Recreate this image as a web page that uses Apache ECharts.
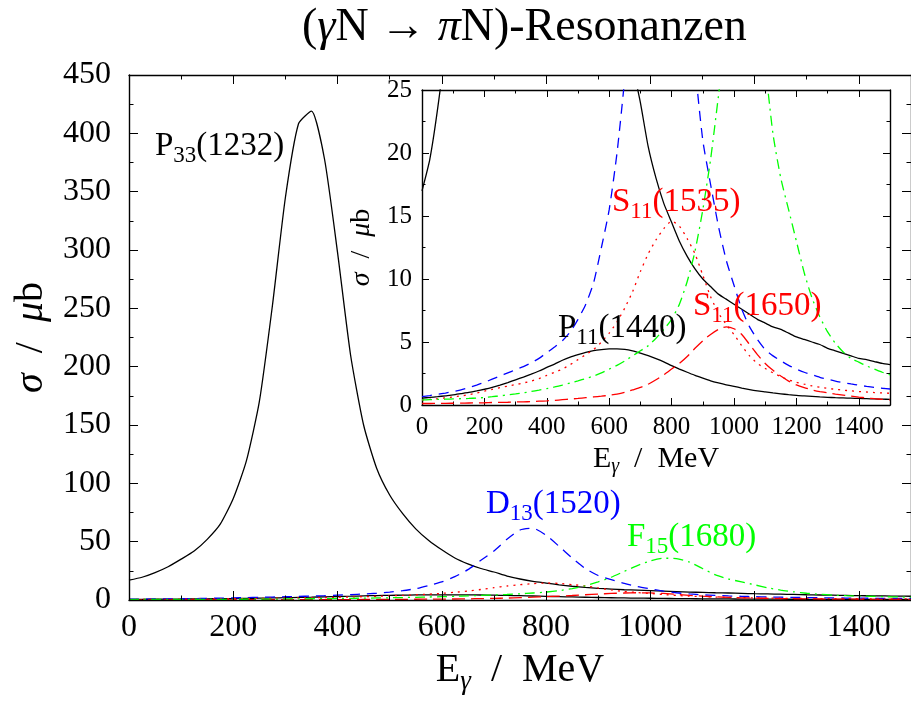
<!DOCTYPE html>
<html>
<head>
<meta charset="utf-8">
<script src="https://cdn.jsdelivr.net/npm/echarts@6/dist/echarts.min.js"></script>
<style>
  html, body { margin: 0; padding: 0; background: #fff; }
  #chart { width: 911px; height: 704px; }
</style>
</head>
<body>
<div id="chart"></div>
<script>
// photon energy grid (MeV)
var energy = [0, 25, 50, 75, 100, 125, 150, 175, 200, 225, 250, 275, 300, 325, 350, 375, 400, 425, 450, 475,
  500, 525, 550, 575, 600, 625, 650, 675, 700, 725, 750, 775, 800, 825, 850, 875, 900, 925, 950, 975,
  1000, 1025, 1050, 1075, 1100, 1125, 1150, 1175, 1200, 1225, 1250, 1275, 1300, 1325, 1350, 1375, 1400, 1425, 1450, 1475, 1500];

// cross sections in microbarn
var p33 = [17, 19.5, 23.5, 28.5, 35, 42, 52, 65, 87, 119, 170, 252, 345, 408, 419, 378, 298, 210, 150, 113,
  90, 74, 61, 51, 43, 36, 31, 27, 24, 20.5, 18, 16, 14.5, 13, 11.8, 10.8, 10, 9.4, 8.8, 8.4,
  8, 7.6, 7.2, 6.8, 6.5, 6.2, 6, 5.7, 5.4, 5.2, 5.0, 4.8, 4.5, 4.3, 4.1, 3.9, 3.7, 3.6, 3.45, 3.3, 3.2];
var p11 = [0.55, 0.6, 0.66, 0.73, 0.8, 0.9, 1.0, 1.12, 1.25, 1.4, 1.58, 1.78, 2.0, 2.22, 2.45, 2.7, 2.98, 3.25, 3.55, 3.8,
  4.0, 4.18, 4.32, 4.4, 4.45, 4.45, 4.42, 4.3, 4.12, 3.92, 3.68, 3.42, 3.12, 2.85, 2.6, 2.35, 2.13, 1.92, 1.75, 1.6,
  1.48, 1.34, 1.22, 1.12, 1.04, 0.96, 0.89, 0.82, 0.76, 0.72, 0.68, 0.64, 0.61, 0.58, 0.56, 0.54, 0.52, 0.5, 0.48, 0.46, 0.45];
var d13 = [0.66, 0.75, 0.85, 0.95, 1.07, 1.2, 1.38, 1.58, 1.8, 2.05, 2.3, 2.55, 2.8, 3.05, 3.35, 3.7, 4.15, 4.6, 5.1, 5.8,
  6.8, 8.0, 9.7, 12.5, 15.5, 20, 26, 34, 42, 52, 60, 61.5, 55.5, 46, 36, 27, 21, 17.5, 14.2, 11.5,
  9.5, 7.6, 6.2, 5.2, 4.4, 3.9, 3.5, 3.15, 2.85, 2.6, 2.4, 2.2, 2.05, 1.9, 1.78, 1.67, 1.57, 1.48, 1.4, 1.33, 1.27];
var s11a = [0.4, 0.45, 0.5, 0.57, 0.64, 0.72, 0.82, 0.95, 1.1, 1.24, 1.38, 1.5, 1.62, 1.75, 1.9, 2.1, 2.35, 2.6, 2.85, 3.2,
  3.6, 4.0, 4.4, 5.0, 5.7, 6.6, 7.7, 9.0, 10.6, 12.0, 13.1, 14.0, 14.6, 14.2, 13.2, 12.0, 10.3, 8.6, 7.3, 6.4,
  5.6, 4.7, 3.9, 3.3, 2.9, 2.55, 2.25, 2.0, 1.8, 1.65, 1.52, 1.41, 1.32, 1.25, 1.18, 1.12, 1.07, 1.03, 0.99, 0.96, 0.93];
var s11b = [0.12, 0.12, 0.13, 0.13, 0.14, 0.15, 0.16, 0.17, 0.18, 0.2, 0.21, 0.22, 0.24, 0.25, 0.27, 0.3, 0.33, 0.37, 0.42, 0.47,
  0.52, 0.58, 0.64, 0.7, 0.77, 0.86, 1.0, 1.2, 1.4, 1.65, 2.0, 2.4, 2.85, 3.3, 3.85, 4.5, 5.1, 5.6, 6.0, 6.2,
  6.05, 5.6, 4.8, 4.0, 3.3, 2.75, 2.3, 1.9, 1.6, 1.38, 1.2, 1.07, 0.96, 0.87, 0.79, 0.71, 0.63, 0.56, 0.5, 0.45, 0.4];
var f15 = [0.4, 0.42, 0.44, 0.46, 0.48, 0.5, 0.52, 0.55, 0.6, 0.66, 0.73, 0.8, 0.88, 0.97, 1.07, 1.18, 1.3, 1.43, 1.58, 1.75,
  1.92, 2.1, 2.3, 2.55, 2.85, 3.15, 3.5, 3.9, 4.3, 4.7, 5.3, 6.0, 6.8, 8.0, 9.8, 12.2, 15.5, 19.5, 24.5, 29.5,
  33.5, 35.8, 35.5, 32.5, 27, 21.5, 18, 15.5, 13, 10.5, 8.5, 7.0, 5.8, 4.9, 4.2, 3.7, 3.4, 3.1, 2.85, 2.6, 2.4];

var font = 'Liberation Serif';
var chart = echarts.init(document.getElementById('chart'));

var curves = [
  { name: 'P33(1232)', data: p33, color: '#000000', dash: 'solid' },
  { name: 'P11(1440)', data: p11, color: '#000000', dash: 'solid' },
  { name: 'D13(1520)', data: d13, color: '#0000ff', dash: [10, 7] },
  { name: 'S11(1535)', data: s11a, color: '#ff0000', dash: [2, 5] },
  { name: 'S11(1650)', data: s11b, color: '#ff0000', dash: [13, 6] },
  { name: 'F15(1680)', data: f15, color: '#00ff00', dash: [10, 5, 2, 5] }
];

function pairs(vals) {
  return energy.map(function (e, i) { return [e, vals[i]]; });
}

var series = [];
curves.forEach(function (c) {
  // main panel
  series.push({
    name: c.name, type: 'line', xAxisIndex: 0, yAxisIndex: 0, z: 2,
    data: pairs(c.data), showSymbol: false, smooth: 0.2,
    lineStyle: { color: c.color, width: 1.3, type: c.dash }
  });
  // inset
  series.push({
    name: c.name, type: 'line', xAxisIndex: 2, yAxisIndex: 2, z: 6,
    data: pairs(c.data), showSymbol: false, smooth: 0.2,
    lineStyle: { color: c.color, width: 1.3, type: c.dash }
  });
});

function axisBase(z, min, max, interval, tickLen) {
  return {
    type: 'value', min: min, max: max, interval: interval, z: z,
    axisLine: { show: true, onZero: false, lineStyle: { color: '#000', width: 1.4 } },
    axisTick: { show: true, inside: true, length: tickLen, lineStyle: { color: '#000', width: 1 } },
    minorTick: { show: true, splitNumber: 2, length: tickLen / 2, lineStyle: { color: '#000', width: 1 } },
    splitLine: { show: false }
  };
}

function withLabels(ax, size, margin, hideMax) {
  ax.axisLabel = { show: true, fontFamily: font, fontSize: size, color: '#000', margin: margin,
    showMaxLabel: !hideMax, formatter: function (v) { return String(v); } };
  return ax;
}
function noLabels(ax) {
  ax.axisLabel = { show: false };
  return ax;
}

var xMain = withLabels(axisBase(4, 0, 1500, 200, 9), 32, 12, true);
xMain.gridIndex = 0; xMain.position = 'bottom';
xMain.name = 'E{s|γ}  /  MeV'; xMain.nameLocation = 'middle'; xMain.nameGap = 46;
xMain.nameTextStyle = { fontFamily: font, fontSize: 40, color: '#000',
  rich: { s: { fontFamily: font, fontSize: 27, fontStyle: 'italic', color: '#000', padding: [22, 0, 0, 0] } } };
var xMainTop = noLabels(axisBase(4, 0, 1500, 200, 9));
xMainTop.gridIndex = 0; xMainTop.position = 'top';

var xIn = withLabels(axisBase(5, 0, 1500, 200, 7), 25, 10, true);
xIn.gridIndex = 1; xIn.position = 'bottom';
xIn.name = 'E{s|γ}  /  MeV'; xIn.nameLocation = 'middle'; xIn.nameGap = 36;
xIn.nameTextStyle = { fontFamily: font, fontSize: 30, color: '#000',
  rich: { s: { fontFamily: font, fontSize: 20, fontStyle: 'italic', color: '#000', padding: [16, 0, 0, 0] } } };
var xInTop = noLabels(axisBase(5, 0, 1500, 200, 7));
xInTop.gridIndex = 1; xInTop.position = 'top';

var yMain = withLabels(axisBase(4, 0, 450, 50, 9), 32, 18, false);
yMain.gridIndex = 0; yMain.position = 'left';
yMain.name = '{i|σ}  /  {i|μ}b'; yMain.nameLocation = 'middle'; yMain.nameGap = 78;
yMain.nameTextStyle = { fontFamily: font, fontSize: 40, color: '#000',
  rich: { i: { fontFamily: font, fontSize: 40, fontStyle: 'italic', color: '#000' } } };
var yMainRight = noLabels(axisBase(4, 0, 450, 50, 9));
yMainRight.gridIndex = 0; yMainRight.position = 'right';

var yIn = withLabels(axisBase(5, 0, 25, 5, 7), 25, 10, false);
yIn.gridIndex = 1; yIn.position = 'left';
yIn.name = '{i|σ}  /  {i|μ}b'; yIn.nameLocation = 'middle'; yIn.nameGap = 46;
yIn.nameTextStyle = { fontFamily: font, fontSize: 28, color: '#000',
  rich: { i: { fontFamily: font, fontSize: 28, fontStyle: 'italic', color: '#000' } } };
var yInRight = noLabels(axisBase(5, 0, 25, 5, 7));
yInRight.gridIndex = 1; yInRight.position = 'right';

function label(text, x, y, color, size) {
  return {
    type: 'text', x: x, y: y, z: 7,
    style: {
      text: text, fill: color, fontFamily: font, fontSize: size, align: 'left', verticalAlign: 'middle',
      rich: { s: { fill: color, fontFamily: font, fontSize: Math.round(size * 0.7), padding: [Math.round(size * 0.6), 0, 0, 0] } }
    }
  };
}

var option = {
  animation: false,
  backgroundColor: '#fff',
  title: {
    text: '({i|γ}N → {i|π}N)-Resonanzen',
    left: 297, top: 0,
    textStyle: { fontFamily: font, fontSize: 46, fontWeight: 'normal', color: '#000',
      rich: { i: { fontFamily: font, fontSize: 46, fontStyle: 'italic', color: '#000' } } }
  },
  grid: [
    { left: 129, top: 75, width: 784, height: 525 },
    { left: 422, top: 90, width: 468, height: 315 }
  ],
  xAxis: [xMain, xMainTop, xIn, xInTop],
  yAxis: [yMain, yMainRight, yIn, yInRight],
  series: series,
  graphic: [
    // white patch under the inset
    { type: 'rect', z: 3, shape: { x: 384, y: 77, width: 530, height: 401 }, style: { fill: '#fff' } },
    label('P{s|33}(1232)', 155, 146, '#000', 33),
    label('D{s|13}(1520)', 486, 504, '#0000ff', 33),
    label('F{s|15}(1680)', 627, 537, '#00ff00', 33),
    label('S{s|11}(1535)', 612, 202, '#ff0000', 33),
    label('S{s|11}(1650)', 693, 306, '#ff0000', 33),
    label('P{s|11}(1440)', 558, 328, '#000', 33)
  ]
};

chart.setOption(option);
</script>
</body>
</html>
